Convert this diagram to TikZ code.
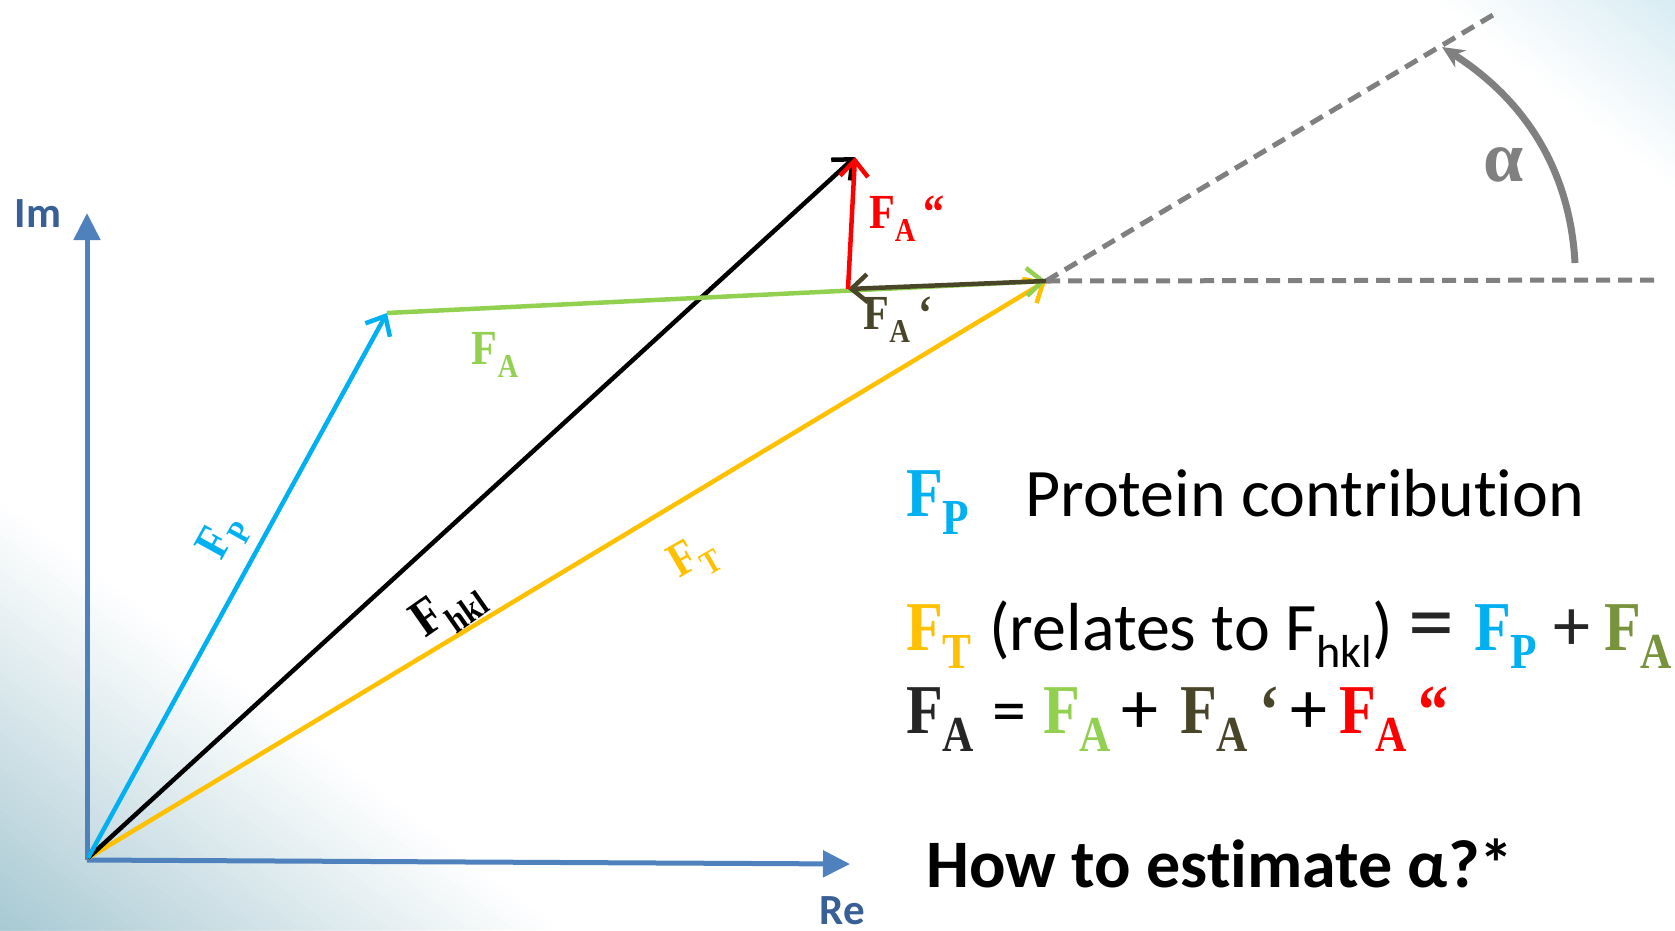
\documentclass[tikz,border=0pt]{standalone}
\usepackage{fontspec}
\setmainfont{Carlito}[Ligatures={NoCommon}]
\newfontfamily\Fser{Liberation Serif}[FakeStretch=0.86]
\newfontfamily\Aser{Liberation Serif}
\usetikzlibrary{arrows.meta}
\definecolor{cFP}{HTML}{00B0F0}
\definecolor{cFA}{HTML}{92D050}
\definecolor{cFAone}{HTML}{494529}
\definecolor{cFT}{HTML}{FFC000}
\definecolor{cFAolive}{HTML}{77933C}
\definecolor{cDark}{HTML}{262626}
\definecolor{cAx}{HTML}{4F81BD}
\definecolor{cAxTxt}{HTML}{385F96}
\definecolor{cGr}{HTML}{808080}
\definecolor{cBL}{HTML}{A8C9D3}
\definecolor{cTR}{HTML}{D8ECF3}
\newcommand{\Sb}[1]{\raisebox{-0.26em}{\scalebox{0.68}{#1}}}
\newcommand{\Sbb}[1]{\raisebox{-0.26em}{\scalebox{0.72}{#1}}}
\begin{document}
\begin{tikzpicture}[x=1pt,y=-1pt,
  vec/.style={line width=4.5pt, -{Straight Barb[length=16pt,width=28pt]}},
  lab/.style={font=\Fser\bfseries\fontsize{49}{56}\selectfont, inner sep=0pt},
  big/.style={font=\Fser\bfseries\fontsize{70}{80}\selectfont, inner sep=0pt, anchor=base west},
  txt/.style={font=\fontsize{68}{80}\selectfont, inner sep=0pt, anchor=base west},
  axis/.style={line width=5pt, color=cAx, -{Triangle[length=27pt,width=26pt]}},
  dsh/.style={line width=5pt, color=cGr, dash pattern=on 14pt off 8pt},
  axlab/.style={font=\bfseries\fontsize{43}{50}\selectfont, text=cAxTxt, inner sep=0pt}
]
\useasboundingbox (0,0) rectangle (1675,930);
% backgrounds
\foreach \i in {0,...,49}{
  \pgfmathsetmacro\ff{\i/50}
  \pgfmathsetmacro\cc{100*(\i+0.5)/50}
  \pgfmathsetmacro\ya{500+430*\ff}
  \pgfmathsetmacro\xa{560*(1-\ff)}
  \pgfmathsetmacro\xb{1433+242*\ff}
  \pgfmathsetmacro\yb{190*(1-\ff)}
  \fill[cBL!\cc!white] (0,\ya) -- (\xa,930) -- (0,930) -- cycle;
  \fill[cTR!\cc!white] (\xb,0) -- (1675,\yb) -- (1675,0) -- cycle;
}
% coordinates
\coordinate (AO) at (87,860);
\coordinate (ImT) at (87,213);
\coordinate (ReT) at (850,864);
\coordinate (O) at (88,858);
\coordinate (P1) at (387,313);
\coordinate (P2) at (1046,281);
\coordinate (P3) at (848,289);
\coordinate (P4) at (855,157);
\coordinate (H) at (1656,280);
\coordinate (S) at (1498,12);
\coordinate (A0) at (1575,263);
\coordinate (A1) at (1442,47);
% axes
\draw[axis] (AO) -- (ImT);
\draw[axis] (AO) -- (ReT);
% dashed
\draw[dsh] (P2) -- (H);
\draw[dsh] (P2) -- (S);
% vectors
\draw[vec, cFT] (O) -- (P2);
\draw[vec, black] (O) -- (P4);
\draw[vec, cFP] (O) -- (P1);
\draw[vec, cFA] (P1) -- (P2);
\draw[vec, cFAone] (P2) -- (P3);
\draw[vec, red] (P3) -- (P4);
% angle arc
\draw[line width=7pt, cGr, -{Stealth[length=22pt,width=20pt]}] (A0) .. controls (1570,170) and (1525,100) .. (A1);
% axis labels
\node[axlab] (Im) at (38,214) {Im};
\node[axlab] (Re) at (842,911) {Re};
% vector labels
\node[lab, text=cFP, rotate=61] (lFP) at (224,538) {F\Sb{P}};
\node[lab, text=cFA] (lFA) at (495,355) {F\Sb{A}};
\node[lab, text=red] (lFAtwo) at (907,219) {F\Sb{A}\,“};
\node[lab, text=cFAone] (lFAone) at (898,320) {F\Sb{A}\,‘};
\node[lab, text=black, rotate=35, font=\Fser\bfseries\fontsize{53}{60}\selectfont] (lFhkl) at (449,610) {F\Sb{hkl}};
\node[lab, text=cFT, rotate=30] (lFT) at (694,559) {F\Sb{T}};
\node[font=\Aser\bfseries\fontsize{72}{80}\selectfont, text=cGr, inner sep=0pt] (alpha) at (1504,165) {α};
% right text
\node[big, text=cFP] (t1a) at (906,516) {F\Sbb{P}};
\node[txt] (t1b) at (1025,516) {Protein contribution};
\node[big, text=cFT] (t2a) at (906,650) {F\Sbb{T}};
\node[txt] (t2b) at (989,650) {(relates to F\raisebox{-0.26em}{\scalebox{0.68}{hkl}})};
\node[txt, text=cDark, font=\fontsize{92}{96}\selectfont] (t2c) at (1408,652) {=};
\node[big, text=cFP] (t2d) at (1474,650) {F\Sbb{P}};
\node[txt, text=cDark, font=\fontsize{74}{80}\selectfont] (t2e) at (1553,650) {+};
\node[big, text=cFAolive] (t2f) at (1604,650) {F\Sbb{A}};
\node[big, text=cDark] (t3a) at (906,733) {F\Sbb{A}};
\node[txt] (t3b) at (992,733) {=};
\node[big, text=cFA] (t3c) at (1043,733) {F\Sbb{A}};
\node[txt, font=\fontsize{74}{80}\selectfont] (t3d) at (1121,733) {+};
\node[big, text=cFAone] (t3e) at (1180,733) {F\Sbb{A}\,‘};
\node[txt, font=\fontsize{74}{80}\selectfont] (t3f) at (1290,733) {+};
\node[big, text=red] (t3g) at (1339,733) {F\Sbb{A}\,“};
\node[txt, font=\bfseries\fontsize{68}{80}\selectfont] (t4) at (926,887) {How to estimate α?*};
\end{tikzpicture}
\end{document}
